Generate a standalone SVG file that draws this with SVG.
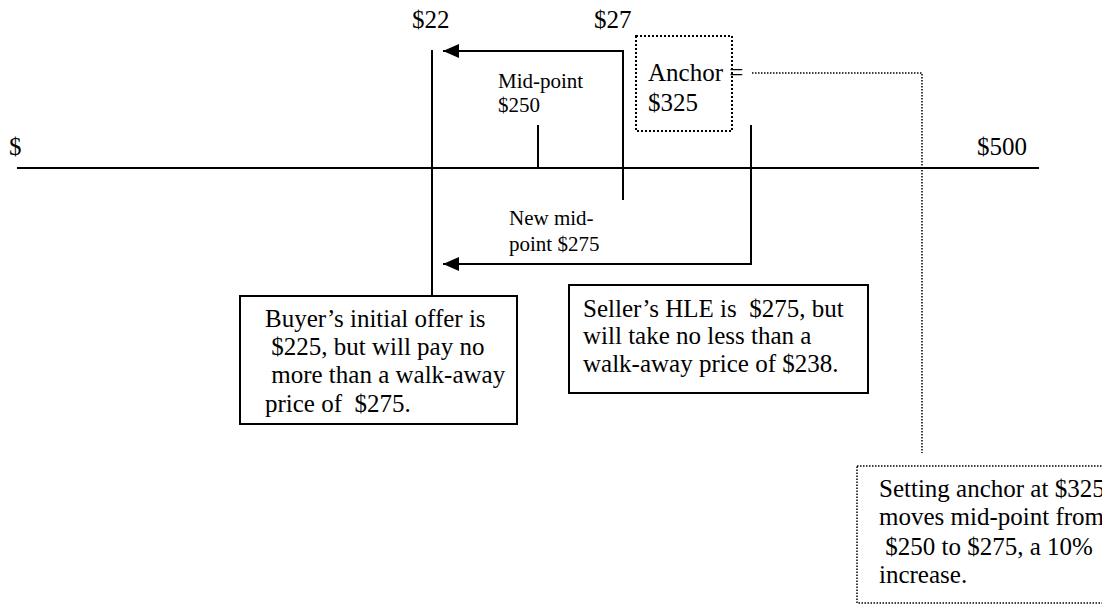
<svg xmlns="http://www.w3.org/2000/svg" width="1102" height="605" viewBox="0 0 1102 605">
<style>
text{font-family:"Liberation Serif",Tinos,"Times New Roman",Times,serif;fill:#000}
.big{font-size:25px}
.sm{font-size:21px}
.ln{stroke:#000;stroke-width:2;fill:none}
.dot{stroke:#000;stroke-width:1.5;fill:none;stroke-dasharray:1.5 1.5}
.box{stroke:#000;stroke-width:2;fill:#fff}
.dbox{stroke:#000;stroke-width:2;fill:none;stroke-dasharray:2 2}
</style>
<defs>
<marker id="ah" markerWidth="16" markerHeight="14" refX="16" refY="7" orient="auto" markerUnits="userSpaceOnUse">
<path d="M0,0 L16,7 L0,14 Z" fill="#000"/>
</marker>
</defs>
<rect width="1102" height="605" fill="#fff"/>
<g id="axis">
<line class="ln" x1="17" y1="168" x2="1039" y2="168"/>
<text class="big" x="9" y="155">$</text>
<text class="big" x="977" y="155">$500</text>
</g>
<g id="connectors">
<line class="ln" x1="432" y1="50" x2="432" y2="296"/>
<line class="ln" x1="538" y1="125" x2="538" y2="168"/>
<polyline class="ln" points="623,200 623,51 443,51" marker-end="url(#ah)"/>
<polyline class="ln" points="751,125 751,264 443,264" marker-end="url(#ah)"/>
<polyline class="dot" points="752,73 922,73 922,453"/>
</g>
<g id="label-22"><text class="big" x="412" y="28">$22</text></g>
<g id="label-27"><text class="big" x="594" y="28">$27</text></g>
<g id="midpoint">
<text class="sm" x="498" y="88">Mid-point</text>
<text class="sm" x="498" y="112">$250</text>
</g>
<g id="new-midpoint">
<text class="sm" x="509" y="225">New mid-</text>
<text class="sm" x="509" y="251">point $275</text>
</g>
<g id="anchor">
<rect class="dbox" x="636" y="36" width="96" height="95"/>
<text class="big" x="648" y="81">Anchor =</text>
<text class="big" x="648" y="111">$325</text>
</g>
<g id="buyer">
<rect class="box" x="240" y="296" width="277" height="128"/>
<text class="big" x="265" y="327">Buyer’s initial offer is</text>
<text class="big" x="265" y="355" xml:space="preserve"> $225, but will pay no</text>
<text class="big" x="265" y="383" xml:space="preserve"> more than a walk-away</text>
<text class="big" x="265" y="412" xml:space="preserve">price of  $275.</text>
</g>
<g id="seller">
<rect class="box" x="569" y="285" width="299" height="108"/>
<text class="big" x="583" y="317" xml:space="preserve">Seller’s HLE is  $275, but</text>
<text class="big" x="583" y="344">will take no less than a</text>
<text class="big" x="583" y="372">walk-away price of $238.</text>
</g>
<g id="note">
<rect class="dot" x="857" y="466" width="260" height="137" style="fill:#fff"/>
<text class="big" x="879" y="497">Setting anchor at $325</text>
<text class="big" x="879" y="525">moves mid-point from</text>
<text class="big" x="879" y="555" xml:space="preserve"> $250 to $275, a 10%</text>
<text class="big" x="879" y="583">increase.</text>
</g>
</svg>
